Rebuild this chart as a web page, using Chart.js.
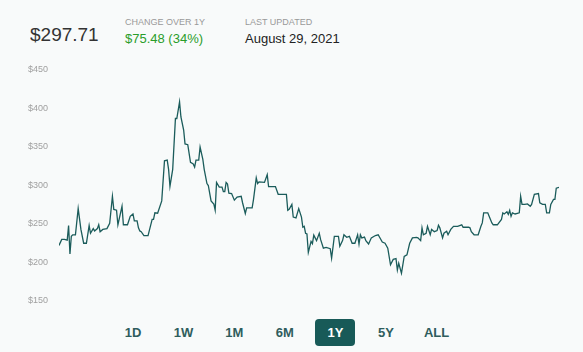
<!DOCTYPE html>
<html>
<head>
<meta charset="utf-8">
<script src="https://cdn.jsdelivr.net/npm/chart.js@4/dist/chart.umd.min.js"></script>
<style>
  html, body { margin: 0; padding: 0; }
  body {
    width: 583px; height: 352px; overflow: hidden;
    background: #f8fafa; position: relative;
    font-family: "Liberation Sans", Arial, sans-serif;
  }
  .abs { position: absolute; white-space: nowrap; }
  #price { left: 30px; top: 24px; font-size: 19px; color: #333; }
  .label { font-size: 9px; color: #999; top: 17px; }
  .value { font-size: 13px; top: 31px; }
  #changeVal { left: 125px; color: #2a9d2a; }
  #updatedVal { left: 245px; color: #222; }
  #chartBox { position: absolute; left: 0; top: 60px; width: 583px; height: 250px; }
  .range {
    position: absolute; top: 319px; height: 27px; width: 40px; line-height: 27px;
    text-align: center; font-size: 13px; font-weight: bold; color: #2f5d5d; border-radius: 4px;
  }
  .range.active { background: #185a58; color: #fff; }
</style>
</head>
<body>
<div class="abs" id="price"></div>
<div class="abs label" style="left:125px">CHANGE OVER 1Y</div>
<div class="abs value" id="changeVal"></div>
<div class="abs label" style="left:245px">LAST UPDATED</div>
<div class="abs value" id="updatedVal"></div>
<div id="chartBox"><canvas id="priceChart"></canvas></div>
<div id="ranges"></div>
<script>
// days since the start of the 1Y window, and closing price on that day
const days = [
	0, 2, 4, 6, 7, 8, 9, 10, 12, 14, 16, 18, 20, 22, 23, 25, 26, 28, 29, 30,
	32, 35, 37, 39, 40, 42, 43, 46, 47, 50, 52, 54, 55, 57, 58, 59, 60, 62, 65, 68,
	69, 70, 72, 75, 77, 79, 80, 81, 83, 85, 86, 88, 89, 91, 92, 94, 96, 98, 99, 100,
	102, 103, 105, 106, 108, 109, 111, 113, 114, 115, 117, 119, 120, 121, 122, 123, 124, 126, 128, 130,
	133, 134, 136, 137, 141, 142, 144, 145, 146, 150, 152, 153, 158, 160, 166, 167, 168, 170, 171, 173,
	175, 177, 178, 179, 180, 181, 182, 184, 185, 186, 188, 190, 191, 193, 195, 198, 199, 201, 204, 205,
	207, 208, 210, 212, 214, 216, 218, 219, 220, 221, 223, 224, 226, 228, 231, 233, 236, 238, 240, 242,
	244, 246, 247, 248, 250, 252, 254, 256, 258, 261, 262, 264, 265, 266, 268, 269, 271, 272, 274, 276,
	277, 278, 280, 281, 283, 284, 286, 288, 291, 294, 295, 299, 300, 301, 303, 306, 308, 309, 310, 313,
	314, 316, 317, 320, 323, 324, 325, 327, 328, 329, 330, 331, 333, 336, 337, 338, 340, 342, 344, 345,
	347, 350, 351, 353, 355, 356, 358, 359, 361, 362, 363, 365
];
const prices = [
	222.23, 230, 230, 229, 248, 211, 234, 236, 236, 270, 243, 225, 225, 248, 238, 244, 241, 244, 249, 240,
	243, 244, 251, 286, 269, 268, 249, 273, 249, 249, 260, 263, 254, 254, 245, 241, 240, 235, 235, 256,
	256, 264.5, 264, 280, 332, 333, 321, 299, 321, 387, 387, 408.5, 389, 372, 354, 353, 330, 328, 324, 333,
	333, 350, 334, 321, 302.5, 300, 280, 276, 268, 304, 298, 298, 292, 292, 304, 302, 290, 289.5, 281, 285,
	286, 277.6, 263.7, 271, 271, 282, 310, 302.5, 304.7, 304, 314, 298.6, 298.6, 288.6, 288.6, 267.7, 269, 275.5, 259, 258,
	270, 259, 245.8, 247, 238, 237, 213, 227.5, 224.5, 235.5, 228.4, 238, 229.7, 218.7, 219.6, 218, 205.6, 234, 234, 221,
	228.4, 236, 232.7, 234, 225, 225, 236, 224, 236, 232, 233, 228.4, 224, 232, 235, 236, 226.5, 225, 218.7, 197,
	204, 205, 190.4, 199, 186, 207.8, 210, 225, 232, 232.7, 232, 228.4, 245, 236, 238, 247, 236, 243, 240, 241.5,
	248.4, 245, 232, 238, 240.6, 236, 243, 247, 247, 249, 245.8, 245.8, 245, 240, 236, 236, 247, 251.4, 264.5, 264.5,
	260, 251.4, 249, 249, 256, 264.5, 263, 265.8, 262.4, 267.7, 260, 264.5, 263, 264.5, 286, 275.5, 275.5, 276, 273, 275.5,
	288.6, 289.5, 277.6, 275.5, 275.5, 264.5, 264.5, 275.5, 282, 282, 296.5, 297.71
];
const yTicks = [150, 200, 250, 300, 350, 400, 450];
const ranges = ['1D', '1W', '1M', '6M', '1Y', '5Y', 'ALL'];
const activeRange = '1Y';
const lastPrice = 297.71;
const change = 75.48;
const changePct = 34;
const lastUpdated = 'August 29, 2021';

function renderHeader() {
	document.getElementById('price').textContent = '$' + lastPrice.toFixed(2);
	document.getElementById('changeVal').textContent = '$' + change.toFixed(2) + ' (' + changePct + '%)';
	document.getElementById('updatedVal').textContent = lastUpdated;
}

function renderRanges() {
	const box = document.getElementById('ranges');
	ranges.forEach((r, i) => {
		const el = document.createElement('div');
		el.className = 'range' + (r === activeRange ? ' active' : '');
		el.style.left = (113 + i * 50.6) + 'px';
		el.textContent = r;
		box.appendChild(el);
	});
}

function createChart() {
	const ctx = document.getElementById('priceChart').getContext('2d');
	new Chart(ctx, {
		type: 'line',
		data: {
			datasets: [{
				data: days.map((d, i) => ({ x: d, y: prices[i] })),
				borderColor: '#1b5c5b',
				borderWidth: 1.3,
				pointRadius: 0,
				tension: 0,
				fill: false
			}]
		},
		options: {
			responsive: true,
			maintainAspectRatio: false,
			animation: false,
			layout: { padding: { top: 10, bottom: 9, right: 24, left: 0 } },
			plugins: { legend: { display: false }, tooltip: { enabled: false } },
			scales: {
				x: { type: 'linear', min: 0, max: 365, display: false },
				y: {
					min: yTicks[0],
					max: yTicks[yTicks.length - 1],
					afterBuildTicks: axis => { axis.ticks = yTicks.map(v => ({ value: v })); },
					afterFit: axis => { axis.width = 59; },
					grid: { display: false },
					border: { display: false },
					ticks: {
						color: '#a0a0a0',
						padding: 3,
						font: { family: 'Liberation Sans', size: 9 },
						callback: v => '$' + v
					}
				}
			}
		}
	});
}

function init() {
	renderHeader();
	renderRanges();
	createChart();
}

document.addEventListener('DOMContentLoaded', init);
</script>
</body>
</html>
